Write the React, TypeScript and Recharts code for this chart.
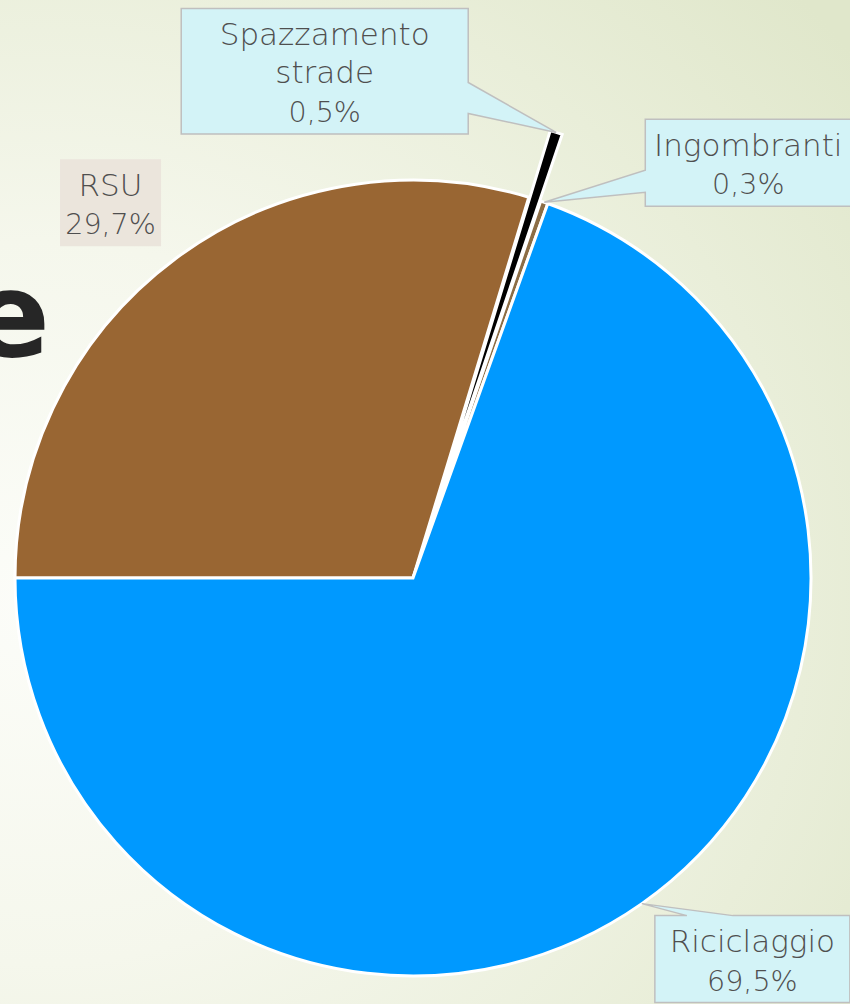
import { Cell, Pie, PieChart } from "recharts";

const categories = ["RSU", "Spazzamento strade", "Ingombranti", "Riciclaggio"];
const shares = [29.7, 0.5, 0.3, 69.5];
const sliceColors = ["#996633", "#000000", "#8c6d45", "#0099ff"];
const explodedCategory = "Spazzamento strade";

const W = 850;
const H = 1004;
const CX = 413;
const CY = 578;
const R = 398;
const EXPLODE = 70;
const RADIAN = Math.PI / 180;

const data = categories.map((name, i) => ({ name, value: shares[i] }));

type Pointer = { side: "left" | "right" | "top"; from: number; to: number };
type Callout = { dx: number; dy: number; w: number; fill: string; stroke?: string; pointer?: Pointer };

/** Box placement relative to the slice anchor point on the rim. */
const calloutLayout: Record<string, Callout> = {
  RSU: { dx: -116, dy: -99, w: 101, fill: "#ebe5dc" },
  "Spazzamento strade": {
    dx: -375,
    dy: -124,
    w: 287,
    fill: "#d3f3f7",
    stroke: "#bfbfbf",
    pointer: { side: "right", from: 74, to: 105 },
  },
  Ingombranti: {
    dx: 101,
    dy: -83,
    w: 206,
    fill: "#d3f3f7",
    stroke: "#bfbfbf",
    pointer: { side: "left", from: 51, to: 73 },
  },
  Riciclaggio: {
    dx: 13,
    dy: 12,
    w: 195,
    fill: "#d3f3f7",
    stroke: "#bfbfbf",
    pointer: { side: "top", from: 32, to: 78 },
  },
};

const LINE_H = 38.5;
const FONT = "'DejaVu Sans', sans-serif";

function formatPct(v: number) {
  return `${v.toFixed(1).replace(".", ",")}%`;
}

function calloutPath(x: number, y: number, w: number, h: number, tx: number, ty: number, p?: Pointer) {
  const r = x + w;
  const b = y + h;
  if (!p) return `M${x},${y}H${r}V${b}H${x}Z`;
  if (p.side === "right") {
    return `M${x},${y}H${r}V${y + p.from}L${tx},${ty}L${r},${y + p.to}V${b}H${x}Z`;
  }
  if (p.side === "left") {
    return `M${x},${y}H${r}V${b}H${x}V${y + p.to}L${tx},${ty}L${x},${y + p.from}Z`;
  }
  return `M${x},${y}H${x + p.from}L${tx},${ty}L${x + p.to},${y}H${r}V${b}H${x}Z`;
}

function renderCallout(props: any, only: (name: string) => boolean) {
  const { cx, cy, midAngle, outerRadius, name, value } = props;
  if (!only(name)) return null;
  const layout = calloutLayout[name];
  if (!layout) return null;
  const ax = cx + outerRadius * Math.cos(-midAngle * RADIAN);
  const ay = cy + outerRadius * Math.sin(-midAngle * RADIAN);
  const words = String(name).split(" ");
  const lines = [...words, formatPct(Number(value))];
  const h = 10 + lines.length * LINE_H;
  const bx = ax + layout.dx;
  const by = ay + layout.dy;
  return (
    <g key={`callout-${name}`}>
      <path
        d={calloutPath(bx, by, layout.w, h, ax, ay, layout.pointer)}
        fill={layout.fill}
        stroke={layout.stroke ?? "none"}
        strokeWidth={1.5}
      />
      {lines.map((line, i) => (
        <text
          key={i}
          x={bx + layout.w / 2}
          y={by + 36.5 + i * LINE_H}
          textAnchor="middle"
          fill="#4f4f4f"
          fontFamily={FONT}
          fontWeight={300}
          fontSize={i < words.length ? 31 : 28.5}
        >
          {line}
        </text>
      ))}
    </g>
  );
}

// mid angle of the exploded slice, from the data, to push it outward
const total = shares.reduce((a, b) => a + b, 0);
const explodedIdx = categories.indexOf(explodedCategory);
const before = shares.slice(0, explodedIdx).reduce((a, b) => a + b, 0);
const explodedMid = 180 - (360 * (before + shares[explodedIdx] / 2)) / total;
const shiftX = EXPLODE * Math.cos(explodedMid * RADIAN);
const shiftY = -EXPLODE * Math.sin(explodedMid * RADIAN);

export default function App() {
  return (
    <div
      style={{
        position: "absolute",
        left: 0,
        top: 0,
        width: W,
        height: H,
        overflow: "hidden",
        background:
          "radial-gradient(ellipse 120% 90% at 5% 60%, #fcfdf9 0%, #f5f7ec 40%, #e9eed9 75%, #e0e7cb 100%)",
      }}
    >
      <svg width={W} height={H} style={{ position: "absolute", left: 0, top: 0 }}>
        <text
          x={50}
          y={356}
          textAnchor="end"
          fill="#262626"
          fontFamily={FONT}
          fontWeight={700}
          fontSize={118}
        >
          e
        </text>
      </svg>
      <div style={{ position: "absolute", left: 0, top: 0 }}>
        <PieChart width={W} height={H} margin={{ top: 0, right: 0, bottom: 0, left: 0 }}>
          <Pie
            data={data}
            dataKey="value"
            nameKey="name"
            cx={CX}
            cy={CY}
            outerRadius={R}
            startAngle={180}
            endAngle={-180}
            stroke="#ffffff"
            strokeWidth={3}
            labelLine={false}
            label={(p: any) => renderCallout(p, (n) => n !== explodedCategory)}
            isAnimationActive={false}
          >
            {data.map((d, i) => (
              <Cell
                key={d.name}
                fill={d.name === explodedCategory ? "none" : sliceColors[i]}
                stroke={d.name === explodedCategory ? "none" : "#ffffff"}
              />
            ))}
          </Pie>
          <Pie
            data={data}
            dataKey="value"
            nameKey="name"
            cx={CX + shiftX}
            cy={CY + shiftY}
            outerRadius={R}
            startAngle={180}
            endAngle={-180}
            stroke="#ffffff"
            strokeWidth={3}
            labelLine={false}
            label={(p: any) => renderCallout(p, (n) => n === explodedCategory)}
            isAnimationActive={false}
          >
            {data.map((d, i) => (
              <Cell
                key={d.name}
                fill={d.name === explodedCategory ? sliceColors[i] : "none"}
                stroke={d.name === explodedCategory ? "#ffffff" : "none"}
              />
            ))}
          </Pie>
        </PieChart>
      </div>
    </div>
  );
}
